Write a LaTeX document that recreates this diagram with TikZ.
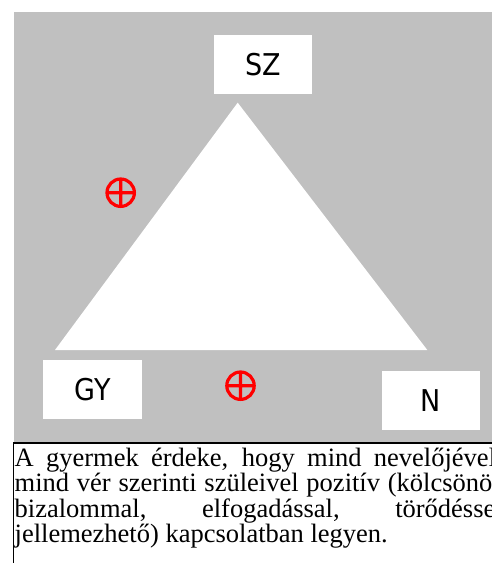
\documentclass[tikz,border=0pt]{standalone}
\usepackage{fontspec}
\setmainfont{Liberation Serif}
\newfontfamily\labelfont[FakeStretch=0.9]{DejaVu Sans}
\definecolor{panelgray}{HTML}{C0C0C0}
\definecolor{signred}{HTML}{FF0000}

\begin{document}
\begin{tikzpicture}[x=1pt,y=-1pt,
  panel/.style={fill=panelgray,draw=none},
  rolebox/.style={fill=white,draw=none,inner sep=0pt,
    minimum width=98pt,minimum height=59pt,
    font=\labelfont\fontsize{30}{36}\selectfont},
  plussign/.style={draw=signred,line width=3.2pt},
  frame/.style={draw=black,line width=1.5pt},
  plus sign/.pic={\draw[plussign] (0,0) circle[radius=13.7]
     (-13.7,0) -- (13.7,0) (0,-13.7) -- (0,13.7);}]

  \useasboundingbox (0,0) rectangle (492,563);
  \clip (0,0) rectangle (492,563);

  % grey panel
  \fill[panel] (14,12) rectangle (510,442);

  % white triangle
  \coordinate (apex) at (237.7,102.7);
  \coordinate (left) at (55,350);
  \coordinate (right) at (427.3,350);
  \fill[white] (apex) -- (right) -- (left) -- cycle;

  % labelled boxes
  \node[rolebox] (sz) at (263,64.5) {SZ};
  \node[rolebox,minimum width=99pt] (gy) at (92.5,389.5) {GY};
  \node[rolebox] (n) at (431,400.5) {N};

  % positive relations
  \pic (plusleft) at (120.7,192.7) {plus sign};
  \pic (plusbottom) at (240.5,385.7) {plus sign};

  % caption frame and text
  \draw[frame] (13.3,620) -- (13.3,443) -- (520,443);
  \node[anchor=base west,inner sep=0pt] (caption) at (14.5,466.7)
    {\parbox[t]{488pt}{\fontsize{26.5}{23.5}\selectfont
     \hyphenpenalty=10000\tolerance=10000
     A gyermek érdeke, hogy mind nevelőjével,\linebreak
     mind vér szerinti szüleivel pozitív (kölcsönös\linebreak
     bizalommal, elfogadással, törődéssel\linebreak
     jellemezhető) kapcsolatban legyen.}};
\end{tikzpicture}
\end{document}
